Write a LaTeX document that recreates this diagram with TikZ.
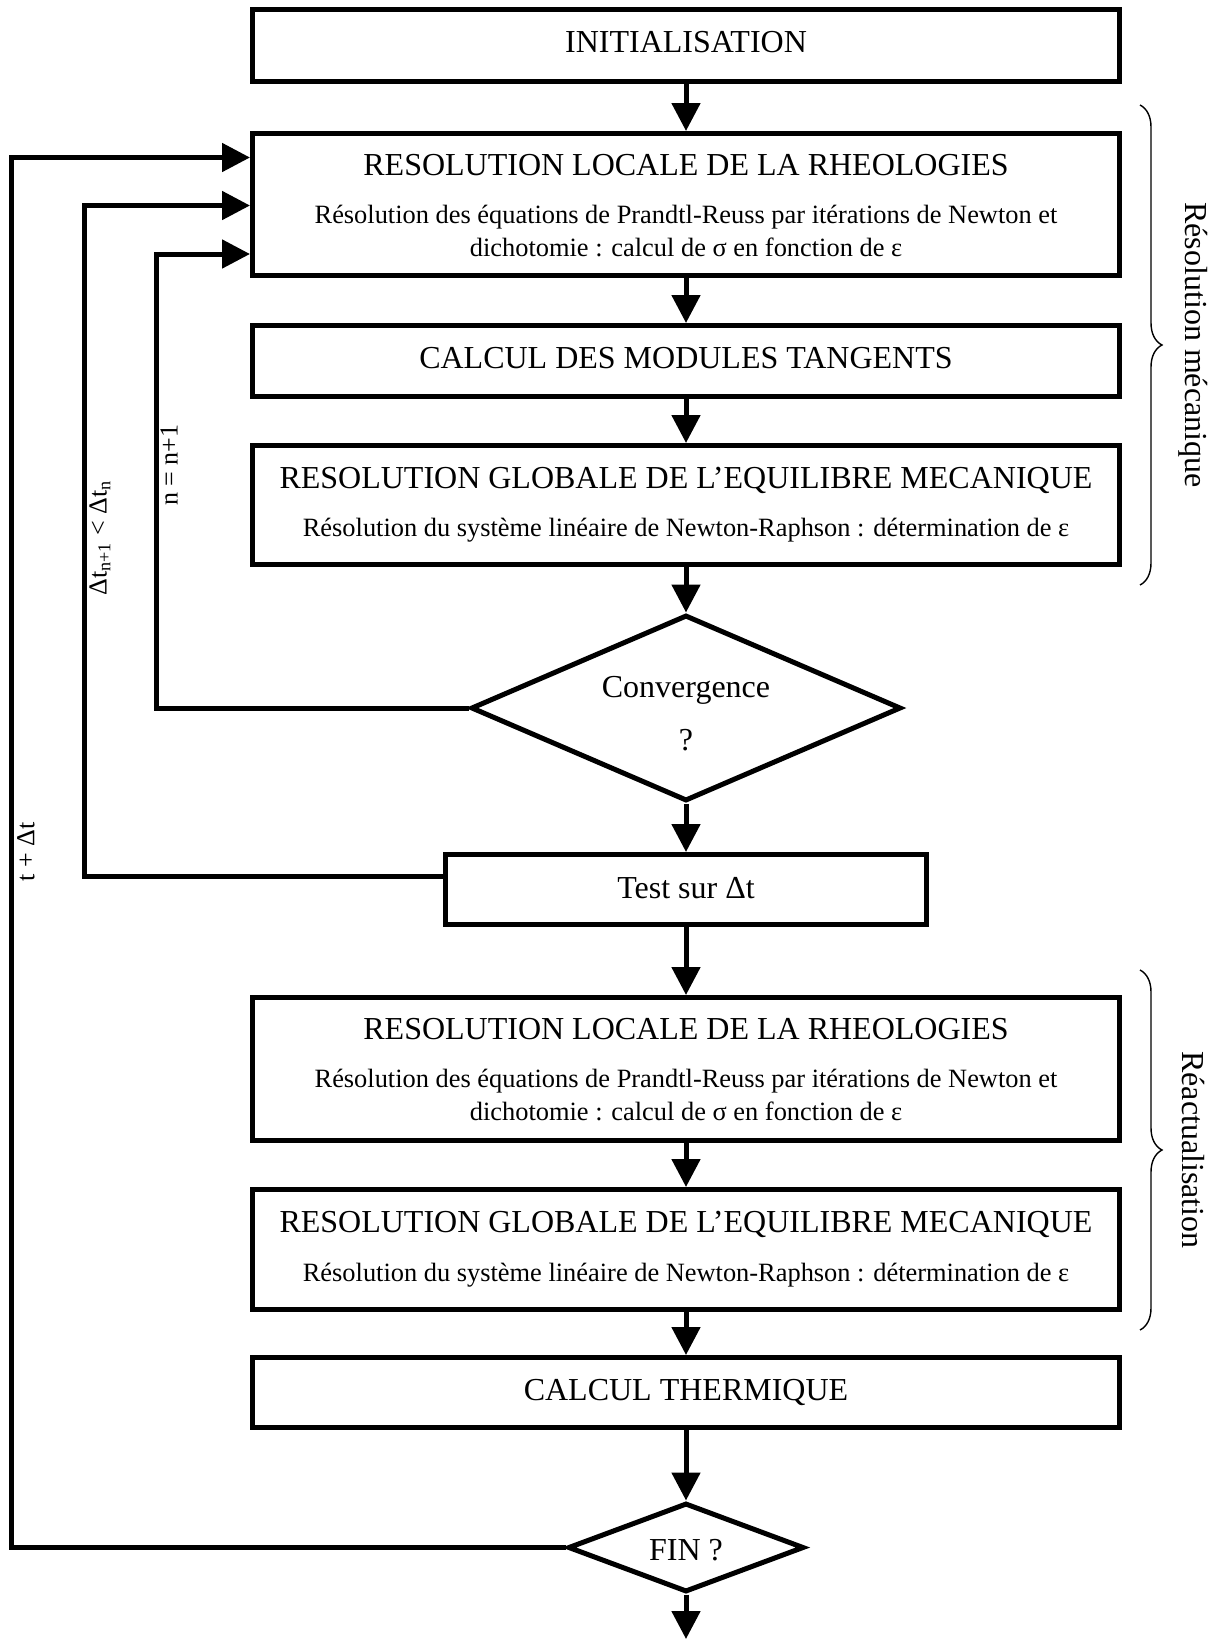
\documentclass[tikz,border=0pt]{standalone}
\usepackage{fontspec}
\setmainfont{Liberation Serif}
\usetikzlibrary{arrows.meta,shapes.geometric,decorations.pathreplacing}
\begin{document}
\begin{tikzpicture}[x=0.5pt,y=-0.5pt,
  boite/.style={draw,line width=2.5pt,minimum width=433.5pt,inner sep=0pt},
  losange/.style={draw,diamond,line width=2.5pt,inner sep=0pt},
  titre/.style={anchor=base,inner sep=0pt,font=\fontsize{16pt}{19pt}\selectfont},
  soustitre/.style={anchor=base,inner sep=0pt,font=\fontsize{13.2pt}{16pt}\selectfont},
  etiq/.style={inner sep=0pt,font=\fontsize{13pt}{16pt}\selectfont},
  cote/.style={inner sep=0pt,font=\fontsize{16pt}{19pt}\selectfont},
  fleche/.style={line width=2.5pt,-{Triangle[length=14pt,width=14pt]}},
  accolade/.style={decorate,decoration={brace,amplitude=11pt},line width=0.7pt},
]
\useasboundingbox (0,0) rectangle (1220,1639);

% boxes
\node[boite,minimum height=36pt] (init) at (686,45.5) {};
\node[boite,minimum height=71pt] (rll1) at (686,204.5) {};
\node[boite,minimum height=35.5pt] (cdmt) at (686,361) {};
\node[boite,minimum height=59.5pt] (rge1) at (686,505) {};
\node[losange,minimum width=215pt,minimum height=93pt] (conv) at (686,708) {};
\node[boite,minimum width=240.5pt,minimum height=35pt] (test) at (686,889.5) {};
\node[boite,minimum height=71.5pt] (rll2) at (686,1069) {};
\node[boite,minimum height=60pt] (rge2) at (686,1249.5) {};
\node[boite,minimum height=35pt] (ct) at (686,1392.5) {};
\node[losange,minimum width=118pt,minimum height=44.5pt] (fin) at (686,1547.5) {};
\coordinate (sortie) at (686,1639);

% texts
\node[titre] (tinit) at (686,52) {INITIALISATION};
\node[titre] (trll1) at (686,175) {RESOLUTION LOCALE DE LA RHEOLOGIES};
\node[soustitre] (srll1a) at (686,223) {Résolution des équations de Prandtl-Reuss par itérations de Newton et};
\node[soustitre] (srll1b) at (686,256) {dichotomie : calcul de σ en fonction de ε};
\node[titre] (tcdmt) at (686,368) {CALCUL DES MODULES TANGENTS};
\node[titre] (trge1) at (686,488) {RESOLUTION GLOBALE DE L’EQUILIBRE MECANIQUE};
\node[soustitre] (srge1) at (686,536) {Résolution du système linéaire de Newton-Raphson : détermination de ε};
\node[titre] (tconv) at (686,697) {Convergence};
\node[titre] (tconvq) at (686,750) {?};
\node[titre] (ttest) at (686,898) {Test sur Δt};
\node[titre] (trll2) at (686,1039) {RESOLUTION LOCALE DE LA RHEOLOGIES};
\node[soustitre] (srll2a) at (686,1087) {Résolution des équations de Prandtl-Reuss par itérations de Newton et};
\node[soustitre] (srll2b) at (686,1120) {dichotomie : calcul de σ en fonction de ε};
\node[titre] (trge2) at (686,1232) {RESOLUTION GLOBALE DE L’EQUILIBRE MECANIQUE};
\node[soustitre] (srge2) at (686,1281) {Résolution du système linéaire de Newton-Raphson : détermination de ε};
\node[titre] (tct) at (686,1400) {CALCUL THERMIQUE};
\node[titre] (tfin) at (686,1560) {FIN ?};

% main flow arrows
\draw[fleche] (init.south) -- (rll1.north);
\draw[fleche] (rll1.south) -- (cdmt.north);
\draw[fleche] (cdmt.south) -- (rge1.north);
\draw[fleche] (rge1.south) -- (conv.north);
\draw[fleche] (conv.south) -- (test.north);
\draw[fleche] (test.south) -- (rll2.north);
\draw[fleche] (rll2.south) -- (rge2.north);
\draw[fleche] (rge2.south) -- (ct.north);
\draw[fleche] (ct.south) -- (fin.north);
\draw[fleche] (fin.south) -- (sortie);

% feedback loops
\coordinate (k1) at (156,254);
\coordinate (k2) at (84,205.5);
\coordinate (k3) at (11,157.5);
\draw[fleche] (conv.west) -| (k1) -- (k1 -| rll1.west);
\draw[fleche] ([yshift=6.75pt]test.west) -| (k2) -- (k2 -| rll1.west);
\draw[fleche] (fin.west) -| (k3) -- (k3 -| rll1.west);

% loop labels
\node[etiq,rotate=90] (lt) at (26,852) {t + Δt};
\node[etiq,rotate=90] (ldt) at (100,538) {Δt\textsubscript{n+1} < Δt\textsubscript{n}};
\node[etiq,rotate=90] (ln) at (169,465) {n = n+1};

% braces
\coordinate (b1a) at (1140,105);
\coordinate (b1b) at (1140,585);
\coordinate (b2a) at (1140,970);
\coordinate (b2b) at (1140,1330);
\draw[accolade] (b1a) -- (b1b);
\draw[accolade] (b2a) -- (b2b);
\node[cote,rotate=-90] (lmeca) at (1193,345) {Résolution mécanique};
\node[cote,rotate=-90] (lreac) at (1193,1150) {Réactualisation};
\end{tikzpicture}
\end{document}
